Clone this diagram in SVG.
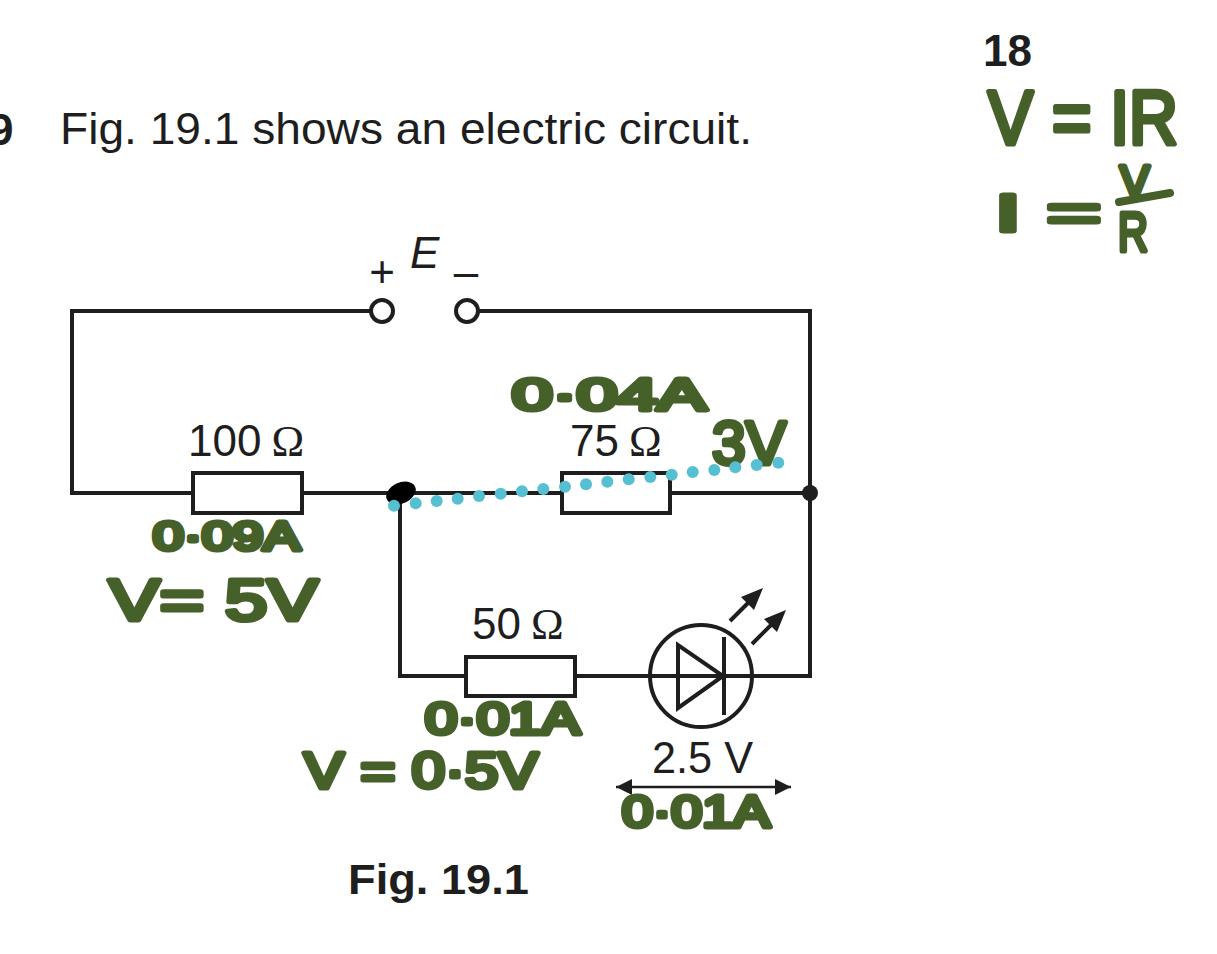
<svg xmlns="http://www.w3.org/2000/svg" width="1217" height="954" viewBox="0 0 1217 954">
<style>
.w{fill:none;stroke:#1e1e1e;stroke-width:4;stroke-linecap:butt;stroke-linejoin:miter}
.r{fill:#fff;stroke:#1e1e1e;stroke-width:4}
.t{font-family:"Liberation Sans",Arial,sans-serif;fill:#1e1e1e}
.l{font-size:44px}
.h{font-family:"Liberation Sans",Arial,sans-serif;fill:#46602a;stroke:#46602a;stroke-width:5;stroke-linejoin:round;stroke-linecap:round}
.s{fill:none;stroke:#46602a;stroke-width:8;stroke-linecap:round}
.d{fill:#57bfd2}
</style>
<defs>
<marker id="a" viewBox="0 0 10 10" refX="10" refY="5" markerWidth="6.5" markerHeight="6.5" orient="auto-start-reverse"><path d="M0 0L10 5L0 10Z" fill="#1e1e1e"/></marker>
</defs>
<rect width="1217" height="954" fill="#fff"/>
<text class="t" x="983" y="66" font-size="44" font-weight="700">18</text>
<text class="t" x="-11" y="145" font-size="44" font-weight="700">9</text>
<text class="t l" x="60" y="144" textLength="692" lengthAdjust="spacingAndGlyphs">Fig. 19.1 shows an electric circuit.</text>
<text class="t" x="348" y="894" font-size="43" font-weight="700" textLength="181" lengthAdjust="spacingAndGlyphs">Fig. 19.1</text>
<g id="connectors">
<path class="w" d="M371 311H72V493H193M302 493H562M670 493H810M479 311H810V676H752M400 493V676H466M575 676H650"/>
<path class="w" d="M650 676H752"/>
<path d="M616 787H791" fill="none" stroke="#1e1e1e" stroke-width="2.5" marker-start="url(#a)" marker-end="url(#a)"/>
</g>
<g id="terminal-plus"><circle class="r" cx="382" cy="311" r="11"/><text class="t" x="382" y="287" font-size="44" text-anchor="middle">+</text></g>
<g id="terminal-minus"><circle class="r" cx="467" cy="311" r="11"/><text class="t" x="466" y="287" font-size="44" text-anchor="middle">–</text></g>
<g id="emf"><text class="t" x="410" y="268" font-size="44" font-style="italic">E</text></g>
<g id="r100"><rect class="r" x="193" y="473" width="109" height="40"/><text class="t l" x="188" y="456">100<tspan dx="10" font-family="Liberation Serif">Ω</tspan></text></g>
<g id="r75"><rect class="r" x="562" y="473" width="108" height="40"/><text class="t l" x="570" y="456">75<tspan dx="10" font-family="Liberation Serif">Ω</tspan></text></g>
<g id="r50"><rect class="r" x="466" y="657" width="109" height="39"/><text class="t l" x="472" y="639">50<tspan dx="10" font-family="Liberation Serif">Ω</tspan></text></g>
<g id="junction"><circle cx="810" cy="493" r="8" fill="#1e1e1e"/></g>
<g id="blob"><ellipse cx="401" cy="493" rx="15.5" ry="10.5" transform="rotate(-25 401 493)" fill="#000"/></g>
<g id="led">
<circle cx="701" cy="676" r="51" fill="none" stroke="#1e1e1e" stroke-width="4"/>
<path class="w" d="M678 645V708L723 676ZM724 637V715"/>
<path d="M730 621L752 599M752 644L775 621" fill="none" stroke="#1e1e1e" stroke-width="4"/>
<path d="M763 588L741 597L754 610ZM786 610L764 619L777 632Z" fill="#1e1e1e"/>
<text class="t l" x="652" y="773" textLength="101" lengthAdjust="spacingAndGlyphs">2.5 V</text>
</g>
<g id="notes">
<text class="h" x="512" y="410" font-size="44" textLength="194" lengthAdjust="spacingAndGlyphs">0·04A</text>
<text class="h" x="712" y="464" font-size="62" textLength="74" lengthAdjust="spacingAndGlyphs">3V</text>
<text class="h" x="153" y="550" font-size="40" textLength="147" lengthAdjust="spacingAndGlyphs">0·09A</text>
<text class="h" x="109" y="620" font-size="58" textLength="209" lengthAdjust="spacingAndGlyphs">V= 5V</text>
<text class="h" x="425" y="734" font-size="44" textLength="155" lengthAdjust="spacingAndGlyphs">0·01A</text>
<text class="h" x="304" y="788" font-size="50" textLength="234" lengthAdjust="spacingAndGlyphs">V = 0·5V</text>
<text class="h" x="622" y="827" font-size="44" textLength="148" lengthAdjust="spacingAndGlyphs">0·01A</text>
<text class="h" x="988" y="144" font-size="76" textLength="190" lengthAdjust="spacingAndGlyphs">V = IR</text>
<text class="h" x="995" y="231" font-size="52" textLength="106" lengthAdjust="spacingAndGlyphs">I =</text>
<text class="h" x="1120" y="197" font-size="44">V</text>
<text class="h" x="1118" y="251" font-size="56" textLength="30" lengthAdjust="spacingAndGlyphs">R</text>
<path class="s" d="M1119 202L1170 193"/>
</g>
<g id="dots" class="d">
<circle cx="394" cy="505.7" r="6"/><circle cx="415.7" cy="503.3" r="6"/><circle cx="436.7" cy="501" r="6"/><circle cx="457.7" cy="498.7" r="6"/><circle cx="479" cy="496" r="6"/><circle cx="500.7" cy="493.7" r="6"/><circle cx="522" cy="491.3" r="6"/><circle cx="543.3" cy="489" r="6"/><circle cx="565" cy="486.7" r="6"/><circle cx="586" cy="484.3" r="6"/><circle cx="607.3" cy="481.7" r="6"/><circle cx="628.7" cy="479.3" r="6"/><circle cx="650.3" cy="477" r="6"/><circle cx="671.7" cy="474.7" r="6"/><circle cx="692.7" cy="472" r="6"/><circle cx="714.3" cy="470" r="6"/><circle cx="735.3" cy="467.3" r="6"/><circle cx="756.7" cy="465" r="6"/><circle cx="778.3" cy="462.7" r="6"/>
</g>
</svg>
